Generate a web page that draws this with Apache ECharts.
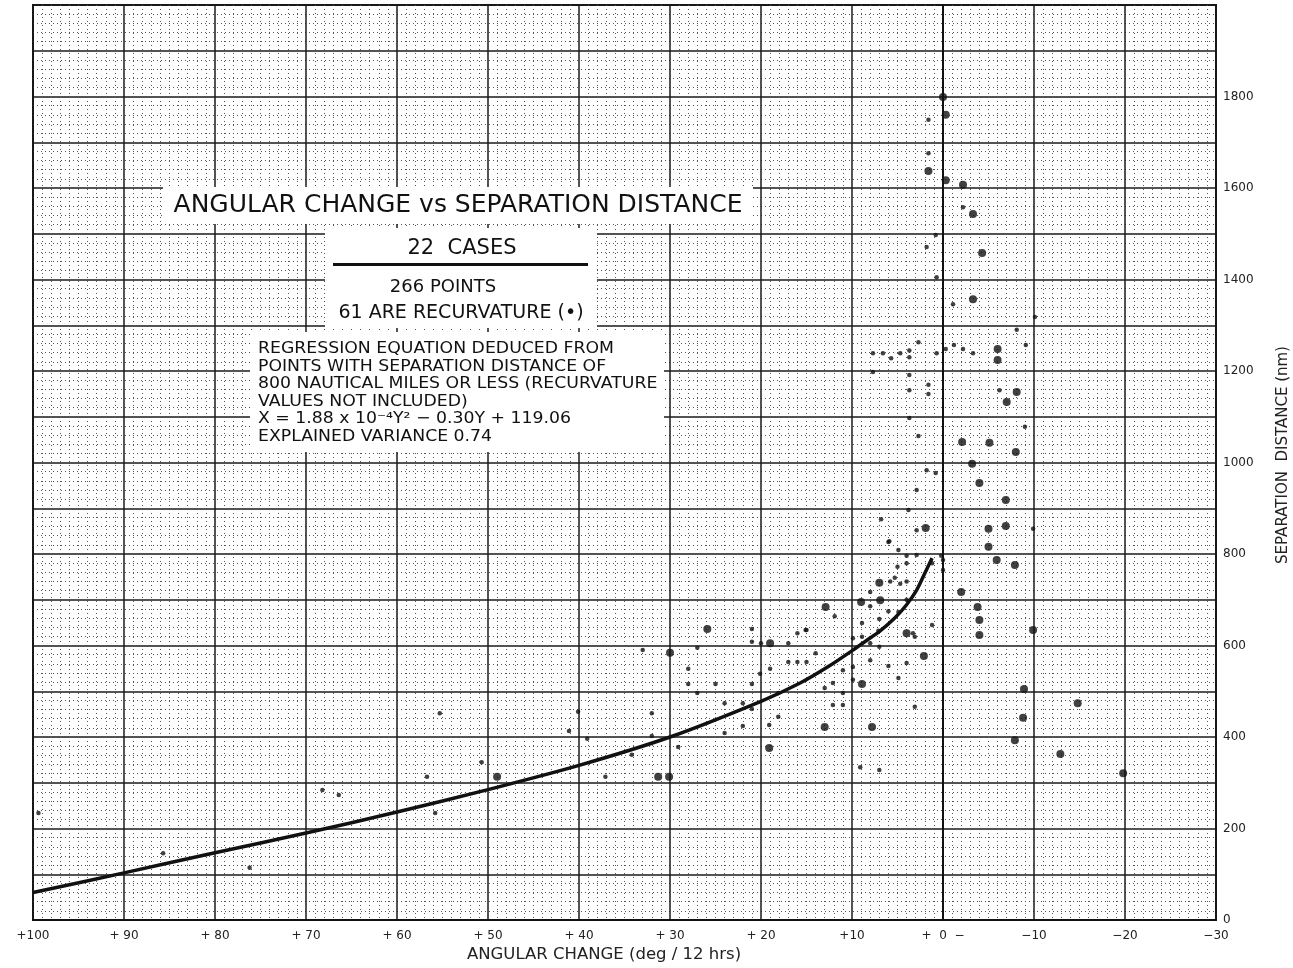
<!DOCTYPE html>
<html>
<head>
<meta charset="utf-8">
<script src="https://cdn.jsdelivr.net/npm/echarts@6/dist/echarts.min.js"></script>
<style>
html,body{margin:0;padding:0;background:#fff;}
#chart{width:1293px;height:968px;}
</style>
</head>
<body>
<div id="chart"></div>
<script>
// ---- tick labels ----
const xTickValues = [100, 90, 80, 70, 60, 50, 40, 30, 20, 10, 0, -10, -20, -30];
const xTickLabels = ['+100', '+ 90', '+ 80', '+ 70', '+ 60', '+ 50', '+ 40', '+ 30', '+ 20', '+10', '+  0  \u2212', '\u221210', '\u221220', '\u221230'];
const yTickValues = [0, 200, 400, 600, 800, 1000, 1200, 1400, 1600, 1800];

// ---- regression curve [angular change, separation] ----
const curvePoints = [
  [100, 60], [90, 103], [80, 147], [70, 190], [60, 236], [50, 285], [40, 338],
  [30, 400], [20, 478], [15.7, 518], [12.6, 554], [9.9, 590], [8.4, 611], [6.9, 632],
  [5.3, 660], [4.0, 689], [2.9, 721], [2.0, 758], [1.2, 791]
];

// ---- ordinary points (small marks) ----
const ordinaryPoints = [
  [99.4, 234], [85.7, 146], [76.2, 114], [68.2, 284], [66.4, 273], [56.7, 313], [55.8, 234], [50.7, 345],
  [55.3, 452], [40.1, 455], [41.1, 413], [39.1, 396],
  [33, 590], [27, 595], [28, 549], [28, 516], [25, 516], [27, 496], [24, 474], [22, 474], [21, 461],
  [21, 636], [21, 608], [20, 605], [17, 605], [16, 627], [15, 634], [19, 549], [17, 564], [16, 564],
  [15, 564], [14, 583], [20.1, 538], [21, 516], [18.1, 496], [18.1, 444], [19.1, 426], [22, 424],
  [24, 409], [32, 452], [32, 402], [29.1, 378], [34.2, 361], [37.1, 313],
  [11.9, 664], [8, 717], [8, 686], [7, 658], [6, 675], [4.9, 673], [8.9, 649], [9.9, 616], [8.9, 619],
  [8, 605], [7, 597], [15.1, 634], [11, 546], [6, 555], [8, 568], [9.9, 553], [4, 562], [3.1, 619],
  [1.2, 645], [12.1, 518], [13, 507], [11, 496], [9.9, 525], [11, 470], [12.1, 470], [4.9, 529],
  [3.1, 466], [5, 772], [2.9, 798], [1.2, 780], [0, 787], [0, 765], [6, 826], [5.8, 740], [5.3, 748],
  [4.7, 735], [4, 700], [4, 740], [4, 780], [9.1, 334], [7, 328], [7.1, 632], [3.3, 627],
  [7.7, 1239], [6.6, 1239], [5.7, 1228], [4.7, 1239], [3.7, 1230], [3.7, 1245], [2.7, 1263],
  [0.7, 1239], [-1.2, 1257], [-2.2, 1248], [-3.3, 1239], [7.7, 1198], [3.7, 1191], [3.7, 1158],
  [1.6, 1150], [1.6, 1170], [3.7, 1097], [2.7, 1058], [1.8, 983], [0.8, 977], [2.9, 940], [3.8, 896],
  [6.8, 876], [2.9, 852], [5.9, 828], [4.9, 809], [4, 796], [0.2, 796], [-6.2, 1158], [-9, 1078],
  [-0.3, 1248], [-9.1, 1257], [-9.9, 855],
  [1.6, 1749], [1.6, 1676], [-2.2, 1558], [0.8, 1497], [1.8, 1471], [0.7, 1405], [-1.1, 1346],
  [-10.1, 1318], [-8.1, 1290]
];

// ---- recurvature points (large dots) ----
const recurvaturePoints = [
  [49, 313], [25.9, 636], [19, 605], [30, 584], [19.1, 376], [31.3, 313], [30.1, 313],
  [12.9, 684], [9, 695], [7, 737], [6.9, 699], [4, 627], [2.1, 577], [8.9, 516], [13, 422], [7.8, 422],
  [0, 1799], [-0.3, 1760], [1.6, 1637], [-0.3, 1617], [-2.2, 1607], [-3.3, 1543], [-4.3, 1458],
  [-3.3, 1357], [-6, 1248], [-6, 1224], [-8.1, 1154], [-7, 1132], [-2.1, 1045], [-5.1, 1043],
  [-8, 1023], [-3.2, 997], [-4, 955], [-6.9, 918], [1.9, 857], [-5, 855], [-6.9, 861], [-5, 816],
  [-5.9, 787], [-7.9, 776], [-2, 717], [-3.8, 684], [-4, 656], [-4, 623], [-9.9, 634], [-8.9, 505],
  [-8.8, 442], [-7.9, 393], [-14.8, 474], [-12.9, 363], [-19.8, 321]
];

// ---- texts ----
const titleText = 'ANGULAR CHANGE vs SEPARATION DISTANCE';
const casesText = '22  CASES';
const pointsText = '266 POINTS';
const recurvText = '61 ARE RECURVATURE (\u2022)';
const regressionLines = [
  'REGRESSION EQUATION DEDUCED FROM',
  'POINTS WITH SEPARATION DISTANCE OF',
  '800 NAUTICAL MILES OR LESS (RECURVATURE',
  'VALUES NOT INCLUDED)',
  'X = 1.88 x 10\u207B\u2074Y\u00B2 \u2212 0.30Y + 119.06',
  'EXPLAINED VARIANCE 0.74'
];
const xAxisTitle = 'ANGULAR CHANGE (deg / 12 hrs)';
const yAxisTitle = 'SEPARATION  DISTANCE (nm)';

const FONT = '"DejaVu Sans", "Liberation Sans", sans-serif';
const chart = echarts.init(document.getElementById('chart'), null, {renderer: 'canvas'});

const xLabelMap = {};
xTickValues.forEach((v, i) => { xLabelMap[v] = xTickLabels[i]; });

const graphics = [
  {type: 'rect', z: 100, shape: {x: 163, y: 187, width: 590, height: 37}, style: {fill: '#fff'}},
  {type: 'rect', z: 100, shape: {x: 325, y: 228, width: 272, height: 100}, style: {fill: '#fff'}},
  {type: 'rect', z: 100, shape: {x: 250, y: 332, width: 414, height: 120}, style: {fill: '#fff'}},
  {type: 'text', z: 101, style: {text: titleText, x: 458, y: 205, textAlign: 'center', textVerticalAlign: 'middle', font: '25px ' + FONT, fill: '#111'}},
  {type: 'text', z: 101, style: {text: casesText, x: 462, y: 249, textAlign: 'center', textVerticalAlign: 'middle', font: '21px ' + FONT, fill: '#111'}},
  {type: 'rect', z: 101, shape: {x: 333, y: 263, width: 255, height: 3}, style: {fill: '#111'}},
  {type: 'text', z: 101, style: {text: pointsText, x: 443, y: 287, textAlign: 'center', textVerticalAlign: 'middle', font: '18px ' + FONT, fill: '#111'}},
  {type: 'text', z: 101, style: {text: recurvText, x: 461, y: 313, textAlign: 'center', textVerticalAlign: 'middle', font: '19px ' + FONT, fill: '#111'}},
  {type: 'text', z: 101, x: 604, y: 955, scaleX: 1.1, style: {text: xAxisTitle, x: 0, y: 0, textAlign: 'center', textVerticalAlign: 'middle', font: '15px ' + FONT, fill: '#222'}},
  {type: 'text', z: 101, rotation: Math.PI / 2, x: 1283, y: 455, style: {text: yAxisTitle, x: 0, y: 0, textAlign: 'center', textVerticalAlign: 'middle', font: '15px ' + FONT, fill: '#222'}}
];
regressionLines.forEach((t, i) => {
  graphics.push({type: 'text', z: 101, x: 258, y: 349 + i * 17.5, scaleX: 1.08,
    style: {text: t, x: 0, y: 0, textAlign: 'left', textVerticalAlign: 'middle', font: '16px ' + FONT, fill: '#111'}});
});

const option = {
  backgroundColor: '#fff',
  animation: false,
  grid: {left: 33, right: 77, top: 5, bottom: 48, show: true, borderColor: '#111', borderWidth: 2, backgroundColor: 'transparent'},
  xAxis: {
    type: 'value', inverse: true, min: -30, max: 100, interval: 10,
    axisLine: {show: true, lineStyle: {color: '#111', width: 2}},
    axisTick: {show: false},
    axisLabel: {margin: 10, fontSize: 12, fontFamily: FONT, color: '#222',
      formatter: v => (xLabelMap[v] !== undefined ? xLabelMap[v] : '')},
    splitLine: {show: true, lineStyle: {color: '#1a1a1a', width: 1.5}},
    minorTick: {show: false, splitNumber: 10},
    minorSplitLine: {show: true, lineStyle: {color: '#555', width: 1, type: [1, 3]}}
  },
  yAxis: {
    type: 'value', position: 'right', min: 0, max: 2000, interval: 100,
    axisLine: {show: true, lineStyle: {color: '#111', width: 2}},
    axisTick: {show: false},
    axisLabel: {margin: 7, fontSize: 12, fontFamily: FONT, color: '#222',
      formatter: v => (yTickValues.indexOf(v) >= 0 ? String(v) : '')},
    splitLine: {show: true, lineStyle: {color: '#1a1a1a', width: 1.5}},
    minorTick: {show: false, splitNumber: 5},
    minorSplitLine: {show: true, lineStyle: {color: '#555', width: 1, type: [1, 3]}}
  },
  series: [
    {type: 'scatter', name: 'points', data: ordinaryPoints, symbol: 'circle', symbolSize: 4.5,
      itemStyle: {color: '#111'}, z: 3},
    {type: 'scatter', name: 'recurvature', data: recurvaturePoints, symbol: 'circle', symbolSize: 8,
      itemStyle: {color: '#111'}, z: 4},
    {type: 'line', name: 'regression', data: curvePoints, smooth: 0.3, showSymbol: false, symbol: 'none',
      lineStyle: {color: '#111', width: 3.5}, z: 5}
  ],
  graphic: graphics
};
chart.setOption(option);
</script>
</body>
</html>
